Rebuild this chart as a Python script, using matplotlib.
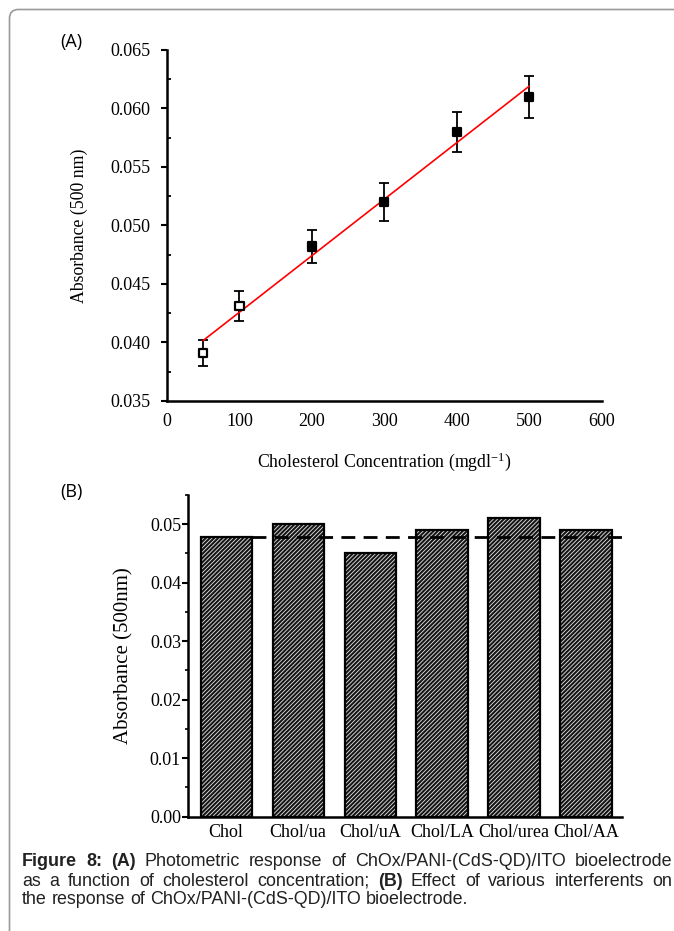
import numpy as np
import matplotlib
matplotlib.use("Agg")
import matplotlib.pyplot as plt
from matplotlib.patches import FancyBboxPatch
from matplotlib.ticker import MultipleLocator, FormatStrFormatter

plt.rcParams['font.family'] = ['Liberation Serif', 'DejaVu Serif']
plt.rcParams['mathtext.fontset'] = 'stix'
plt.rcParams['hatch.linewidth'] = 0.6

# Panel A - photometric response
conc = [50, 100, 200, 300, 400, 500]
absorb = [0.0391, 0.0431, 0.0482, 0.0520, 0.0580, 0.0610]
absorb_err = [0.0011, 0.0013, 0.0014, 0.0016, 0.0017, 0.0018]
marker_fill = ['white', 'white', 'black', 'black', 'black', 'black']

# Panel B - interferents
samples = ['Chol', 'Chol/ua', 'Chol/uA', 'Chol/LA', 'Chol/urea', 'Chol/AA']
resp = [0.0478, 0.050, 0.045, 0.049, 0.051, 0.049]

fig = plt.figure(figsize=(6.74, 9.31), dpi=100)

# gray frame of the page
frame = FancyBboxPatch((9.5, -20), 700, 931 + 20 - 9.5, boxstyle="round,pad=0,rounding_size=9",
                       transform=None, fill=False, edgecolor='#9a9a9a', linewidth=1.2)
fig.patches.append(frame)

# ---- (A)
ax1 = fig.add_axes([0.2478, 0.5693, 0.6447, 0.3770])
ax1.errorbar(conc, absorb, yerr=absorb_err, fmt='none', ecolor='black',
             elinewidth=1.3, capsize=3.5, capthick=1.3, zorder=2)
fit = np.polyfit(conc, absorb, 1)
xf = np.array([conc[0], conc[-1]])
ax1.plot(xf, np.polyval(fit, xf), color='red', linewidth=1.2, zorder=3)
ax1.scatter(conc, absorb, marker='s', s=36, facecolors=marker_fill,
            edgecolors='black', linewidths=1.6, zorder=4)

ax1.set_xlim(0, 600)
ax1.set_ylim(0.035, 0.065)
ax1.xaxis.set_major_locator(MultipleLocator(100))
ax1.yaxis.set_major_locator(MultipleLocator(0.005))
ax1.yaxis.set_minor_locator(MultipleLocator(0.0025))
ax1.yaxis.set_major_formatter(FormatStrFormatter('%.3f'))
for s in ['top', 'right']:
    ax1.spines[s].set_visible(False)
for s in ['left', 'bottom']:
    ax1.spines[s].set_linewidth(1.8)
ax1.tick_params(axis='y', which='major', direction='out', length=4, width=1.5, labelsize=13, pad=8)
ax1.tick_params(axis='y', which='minor', direction='in', length=3, width=1.3)
ax1.tick_params(axis='x', which='major', direction='in', length=0, labelsize=13, pad=9)
ax1.set_xlabel(r'Cholesterol Concentration (mgdl$^{\mathregular{-1}}$)', fontsize=12.8, labelpad=14)
ax1.set_ylabel('Absorbance (500 nm)', fontsize=12.8, labelpad=16)
fig.text(60 / 674, 1 - 42 / 931, '(A)', family='Open Sans', fontsize=13, va='center', ha='left')

# ---- (B)
ax2 = fig.add_axes([0.2789, 0.1228, 0.6439, 0.3455])
xpos = np.arange(len(samples))
bw = 0.71
ax2.bar(xpos, resp, width=bw, color='#151515', edgecolor='#e8e8e8', hatch='////////',
        linewidth=0, zorder=2)
ax2.bar(xpos, resp, width=bw, fill=False, edgecolor='black', linewidth=1.6, zorder=3)
ax2.hlines(resp[0], xpos[0] + bw / 2, 5.56, colors='black', linestyles=(0, (5, 3)),
           linewidth=2, zorder=4, clip_on=False)
ax2.set_xlim(-0.53, 5.5)
ax2.set_ylim(0, 0.055)
ax2.set_xticks(xpos)
ax2.set_xticklabels(samples)
ax2.yaxis.set_major_locator(MultipleLocator(0.01))
ax2.yaxis.set_minor_locator(MultipleLocator(0.005))
ax2.yaxis.set_major_formatter(FormatStrFormatter('%.2f'))
for s in ['top', 'right']:
    ax2.spines[s].set_visible(False)
for s in ['left', 'bottom']:
    ax2.spines[s].set_linewidth(1.8)
ax2.tick_params(axis='y', which='major', direction='out', length=4, width=1.5, labelsize=13, pad=1)
ax2.tick_params(axis='y', which='minor', direction='out', length=2.5, width=1.2)
ax2.tick_params(axis='x', length=0, labelsize=13, pad=5)
ax2.set_ylabel('Absorbance (500nm)', fontsize=15, labelpad=12)
fig.text(60 / 674, 1 - 492 / 931, '(B)', family='Open Sans', fontsize=13, va='center', ha='left')

# ---- caption with bold pieces, first two lines justified
caption = [
    [("Figure 8: (A)", 'bold'), ("Photometric response of ChOx/PANI-(CdS-QD)/ITO bioelectrode", 'normal')],
    [("as a function of cholesterol concentration;", 'normal'), ("(B)", 'bold'),
     ("Effect of various interferents on", 'normal')],
    [("the response of ChOx/PANI-(CdS-QD)/ITO bioelectrode.", 'normal')],
]
justify = [True, True, False]
line_y = [862, 881, 900]
x_left, x_right = 22, 672
cap_size = 12.9
renderer = fig.canvas.get_renderer()


def word_width(w, wt):
    t = fig.text(0, 0, w, family='Liberation Sans', fontsize=cap_size, weight=wt)
    wd = t.get_window_extent(renderer).width
    t.remove()
    return wd


space_w = word_width('a a', 'normal') - word_width('aa', 'normal')
for pieces, yy, just in zip(caption, line_y, justify):
    words = []
    for txt, wt in pieces:
        for w in txt.split(' '):
            words.append((w, wt))
    widths = [word_width(w, wt) for w, wt in words]
    gap = space_w
    if just:
        gap = (x_right - x_left - sum(widths)) / (len(words) - 1)
    xx = x_left
    for (w, wt), wd in zip(words, widths):
        fig.text(xx / 674, 1 - yy / 931, w, family='Liberation Sans', fontsize=cap_size,
                 weight=wt, color='#222222', va='center', ha='left')
        xx += wd + gap

fig.savefig('out.png', dpi=100)
